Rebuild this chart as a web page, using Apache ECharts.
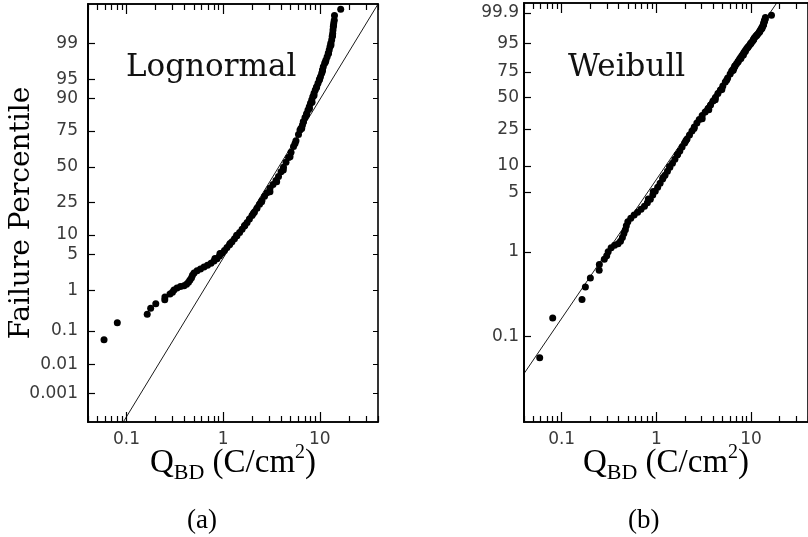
<!DOCTYPE html>
<html>
<head>
<meta charset="utf-8">
<script src="https://cdn.jsdelivr.net/npm/echarts@6/dist/echarts.min.js"></script>
<style>
html,body{margin:0;padding:0;background:#fff;}
#chart{width:808px;height:537px;}
</style>
</head>
<body>
<div id="chart"></div>
<script>
// ---- data ----
// Q_BD in C/cm^2 and failure percentile (%) of each sample
const qbd = [0.0586,0.0804,0.164,0.178,0.201,0.249,0.250,0.282,0.299,0.310,0.333,0.362,0.394,0.418,0.438,0.454,0.471,0.482,0.500,0.537,
  0.583,0.634,0.689,0.749,0.804,0.864,0.823,0.917,0.928,0.973,1.033,1.096,1.164,1.18,1.235,1.31,1.39,1.38,1.48,1.57,
  1.66,1.68,1.77,1.87,1.99,2.05,2.11,2.24,2.38,2.50,2.52,2.68,2.84,3.05,3.05,3.28,3.58,3.52,3.74,3.97,
  4.19,4.21,4.47,4.75,4.92,5.04,5.35,5.54,5.67,6.02,6.24,6.50,6.39,6.62,6.75,6.78,7.03,7.29,7.32,7.55,
  7.82,7.78,8.01,8.31,8.25,8.46,8.71,8.71,8.98,9.24,9.29,9.58,9.88,9.93,10.16,10.46,10.66,10.66,10.87,11.23,
  11.46,11.59,11.92,12.30,12.24,12.51,12.75,13.05,12.99,13.27,13.43,13.53,13.59,13.69,13.79,13.86,13.95,14.12,14.19,16.45];
const failPct = [0.0558,0.166,0.274,0.386,0.494,0.610,0.712,0.823,0.905,1.01,1.12,1.20,1.25,1.34,1.48,1.65,1.83,2.04,2.28,2.50,
  2.72,2.94,3.19,3.46,3.80,4.17,4.20,4.65,5.12,5.17,5.75,6.39,7.11,7.42,7.89,8.76,9.72,9.88,10.78,11.95,
  13.24,13.57,14.66,16.20,17.90,18.96,19.75,21.77,23.96,25.44,26.33,28.88,31.28,31.84,34.20,36.90,38.83,39.76,42.75,46.32,
  47.48,49.58,53.41,56.85,57.44,60.85,64.87,67.01,68.87,72.80,75.52,76.51,76.60,78.38,80.16,80.22,82.29,83.60,84.27,85.72,
  86.33,87.08,88.38,88.80,89.55,90.63,91.01,91.66,92.58,93.20,93.41,94.19,94.88,95.02,95.50,96.08,96.48,96.58,97.02,97.43,
  97.61,97.78,98.09,98.35,98.37,98.61,98.81,98.91,99.00,99.15,99.29,99.31,99.40,99.50,99.58,99.61,99.66,99.71,99.78,99.85];

// tick labels
const lognTickPct = [0.001,0.01,0.1,1,5,10,25,50,75,90,95,99];
const weibTickPct = [0.1,1,5,10,25,50,75,95,99.9];
const qMajorTicks = [0.1,1,10];
const qMinorTicks = [0.04,0.05,0.06,0.07,0.08,0.09,0.2,0.3,0.4,0.5,0.6,0.7,0.8,0.9,2,3,4,5,6,7,8,9,20,30,40];
const qRange = [0.04,40];

// fitted lines
const lognFit = {median:3.77, sigmaLog10:0.3347};
const weibFit = {eta:4.90, beta:1.648};

// ---- scale transforms ----
function probit(p){
  const a=[-3.969683028665376e+01,2.209460984245205e+02,-2.759285104469687e+02,1.383577518672690e+02,-3.066479806614716e+01,2.506628277459239e+00];
  const b=[-5.447609879822406e+01,1.615858368580409e+02,-1.556989798598866e+02,6.680131188771972e+01,-1.328068155288572e+01];
  const c=[-7.784894002430293e-03,-3.223964580411365e-01,-2.400758277161838e+00,-2.549732539343734e+00,4.374664141464968e+00,2.938163982698783e+00];
  const d=[7.784695709041462e-03,3.224671290700398e-01,2.445134137142996e+00,3.754408661907416e+00];
  const pl=0.02425;
  if(p<pl){const q=Math.sqrt(-2*Math.log(p));return (((((c[0]*q+c[1])*q+c[2])*q+c[3])*q+c[4])*q+c[5])/((((d[0]*q+d[1])*q+d[2])*q+d[3])*q+1);}
  if(p>1-pl){const q=Math.sqrt(-2*Math.log(1-p));return -(((((c[0]*q+c[1])*q+c[2])*q+c[3])*q+c[4])*q+c[5])/((((d[0]*q+d[1])*q+d[2])*q+d[3])*q+1);}
  const q=p-0.5,r=q*q;
  return (((((a[0]*r+a[1])*r+a[2])*r+a[3])*r+a[4])*r+a[5])*q/(((((b[0]*r+b[1])*r+b[2])*r+b[3])*r+b[4])*r+1);
}
const lognY = pct => probit(pct/100);
const weibY = pct => Math.log(-Math.log(1-pct/100));
const lx = q => Math.log10(q);

function labelMap(pcts, f){
  return pcts.map(p => ({v:f(p), t:String(p)}));
}
const lognLabels = labelMap(lognTickPct, lognY);
const weibLabels = labelMap(weibTickPct, weibY);
function fmtFrom(list){
  return function(val){
    let best=null, bd=1e9;
    list.forEach(o=>{const dd=Math.abs(o.v-val); if(dd<bd){bd=dd;best=o;}});
    return best ? best.t : '';
  };
}

const tickFont = {fontFamily:'DejaVu Sans', fontSize:17, color:'#3a3a3a'};
const axisLineStyle = {color:'#000', width:1.6};

function xAxesFor(gi){
  const base = {gridIndex:gi, type:'value', min:lx(qRange[0]), max:lx(qRange[1]), splitLine:{show:false},
    axisLine:{show:true, onZero:false, lineStyle:axisLineStyle}};
  return [
    Object.assign({}, base, {position:'bottom',
      axisTick:{show:true, inside:true, length:10, lineStyle:{color:'#000',width:1.2}, customValues:qMajorTicks.map(lx)},
      axisLabel:{show:true, margin:9, customValues:qMajorTicks.map(lx), formatter:v=>String(+Math.pow(10,v).toPrecision(2)), ...tickFont},
      name:'{q|Q}{sub|BD}{q| (C/cm}{sup|2}{q|)}', nameLocation:'middle', nameGap:21, nameMoveOverlap:false,
      nameTextStyle:{rich:{
        q:{fontFamily:'Liberation Serif', fontSize:33, color:'#000', verticalAlign:'middle'},
        sub:{fontFamily:'Liberation Serif', fontSize:22, color:'#000', padding:[19,0,0,0], verticalAlign:'bottom'},
        sup:{fontFamily:'Liberation Serif', fontSize:20, color:'#000', padding:[0,0,19,0], verticalAlign:'top'}
      }}
    }),
    Object.assign({}, base, {position:'bottom',
      axisTick:{show:true, inside:true, length:6, lineStyle:{color:'#000',width:1.2}, customValues:qMinorTicks.map(lx)},
      axisLabel:{show:false}}),
    Object.assign({}, base, {position:'top',
      axisTick:{show:true, inside:true, length:10, lineStyle:{color:'#000',width:1.2}, customValues:qMajorTicks.map(lx)},
      axisLabel:{show:false}}),
    Object.assign({}, base, {position:'top',
      axisTick:{show:true, inside:true, length:6, lineStyle:{color:'#000',width:1.2}, customValues:qMinorTicks.map(lx)},
      axisLabel:{show:false}})
  ];
}

const lognYRange = [-4.808, 3.066];
const weibYRange = [-9.246, 2.206];

const yAxes = [
  {gridIndex:0, type:'value', position:'left', min:lognYRange[0], max:lognYRange[1], splitLine:{show:false},
   axisLine:{show:true, onZero:false, lineStyle:{color:'#000', width:2}},
   axisTick:{show:true, inside:true, length:7, lineStyle:{color:'#000',width:1.2}, customValues:lognLabels.map(o=>o.v)},
   axisLabel:{show:true, margin:10, customValues:lognLabels.map(o=>o.v), formatter:fmtFrom(lognLabels), ...tickFont},
   name:'Failure Percentile', nameLocation:'middle', nameRotate:90, nameGap:52, nameMoveOverlap:false,
   nameTextStyle:{fontFamily:'DejaVu Serif', fontSize:28, color:'#000'}},
  {gridIndex:0, type:'value', position:'right', min:lognYRange[0], max:lognYRange[1], splitLine:{show:false},
   axisLine:{show:true, onZero:false, lineStyle:axisLineStyle},
   axisTick:{show:true, inside:true, length:5, lineStyle:{color:'#000',width:1}, customValues:lognLabels.map(o=>o.v)},
   axisLabel:{show:false}},
  {gridIndex:1, type:'value', position:'left', min:weibYRange[0], max:weibYRange[1], splitLine:{show:false},
   axisLine:{show:true, onZero:false, lineStyle:{color:'#000', width:2}},
   axisTick:{show:true, inside:true, length:7, lineStyle:{color:'#000',width:1.2}, customValues:weibLabels.map(o=>o.v)},
   axisLabel:{show:true, margin:5, customValues:weibLabels.map(o=>o.v), formatter:fmtFrom(weibLabels), ...tickFont}},
  {gridIndex:1, type:'value', position:'right', min:weibYRange[0], max:weibYRange[1], splitLine:{show:false},
   axisLine:{show:true, onZero:false, lineStyle:axisLineStyle},
   axisTick:{show:false}, axisLabel:{show:false}}
];

const lognPts = qbd.map((q,i)=>[lx(q), lognY(failPct[i])]);
const weibPts = qbd.map((q,i)=>[lx(q), weibY(failPct[i])]);
const lognLine = qRange.map(q=>[lx(q), (lx(q)-lx(lognFit.median))/lognFit.sigmaLog10]);
const weibLine = qRange.map(q=>[lx(q), weibFit.beta*Math.log(q/weibFit.eta)]);

const option = {
  animation:false,
  backgroundColor:'#fff',
  grid:[{left:88, top:4, width:290, height:418}, {left:524, top:3, width:290, height:419}],
  xAxis:[...xAxesFor(0), ...xAxesFor(1)],
  yAxis:yAxes,
  title:[
    {text:'Lognormal', left:121, top:47, textStyle:{fontFamily:'DejaVu Serif', fontSize:31, fontWeight:'normal', color:'#111'}},
    {text:'Weibull', left:563, top:47, textStyle:{fontFamily:'DejaVu Serif', fontSize:31, fontWeight:'normal', color:'#111'}},
    {text:'(a)', left:182, top:502, textStyle:{fontFamily:'Liberation Serif', fontSize:27, fontWeight:'normal', color:'#000'}},
    {text:'(b)', left:623, top:502, textStyle:{fontFamily:'Liberation Serif', fontSize:27, fontWeight:'normal', color:'#000'}}
  ],
  series:[
    {type:'line', xAxisIndex:0, yAxisIndex:0, data:lognLine, showSymbol:false, symbol:'none', clip:true,
     lineStyle:{color:'#000', width:0.9}, silent:true},
    {type:'scatter', xAxisIndex:0, yAxisIndex:0, data:lognPts, symbolSize:7, itemStyle:{color:'#000', opacity:1}},
    {type:'line', xAxisIndex:4, yAxisIndex:2, data:weibLine, showSymbol:false, symbol:'none', clip:true,
     lineStyle:{color:'#000', width:0.9}, silent:true},
    {type:'scatter', xAxisIndex:4, yAxisIndex:2, data:weibPts, symbolSize:7, itemStyle:{color:'#000', opacity:1}}
  ]
};
const chart = echarts.init(document.getElementById('chart'), null, {renderer:'canvas'});
chart.setOption(option);
</script>
</body>
</html>
